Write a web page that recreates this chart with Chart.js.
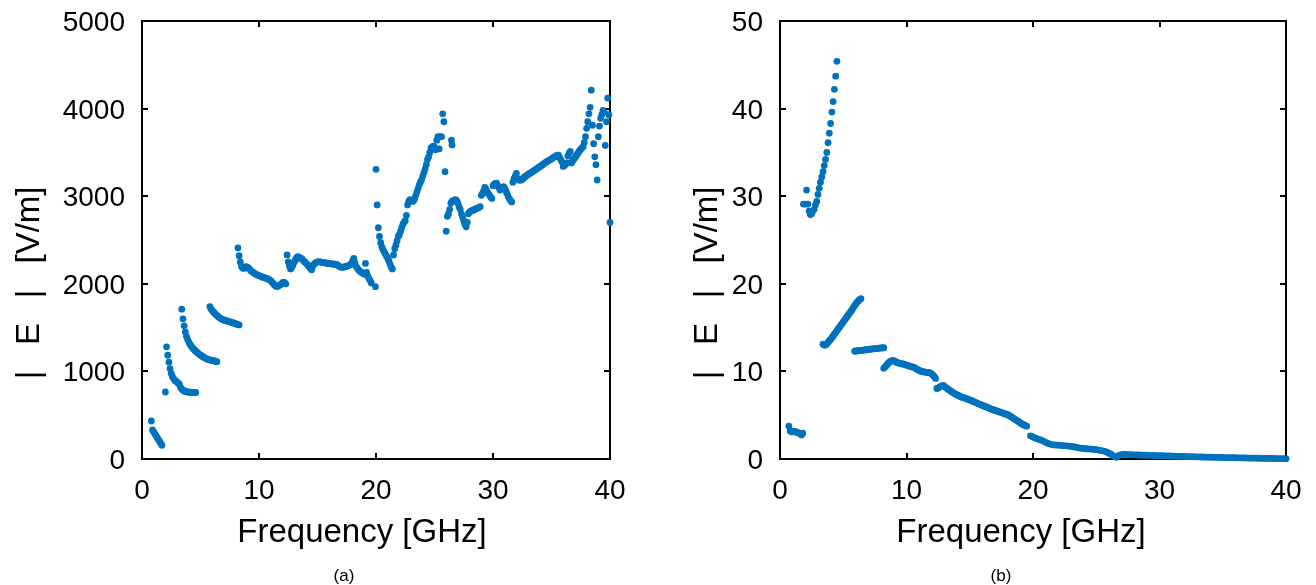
<!DOCTYPE html>
<html>
<head>
<meta charset="utf-8">
<script src="https://cdn.jsdelivr.net/npm/chart.js@4.4.0/dist/chart.umd.min.js"></script>
<style>
  html, body { margin: 0; padding: 0; background: #fff; }
  #wrap { position: relative; width: 1316px; height: 585px; overflow: hidden; }
  .panel { position: absolute; top: 0; width: 658px; height: 585px; }
</style>
</head>
<body>
<div id="wrap">
  <div class="panel" style="left:0"><canvas id="chart-a" width="658" height="585"></canvas></div>
  <div class="panel" style="left:658px"><canvas id="chart-b" width="658" height="585"></canvas></div>
</div>
<script>
// ─── DATA ─────────────────────────────────────────────────────────────────
// frequency sweep, 0.1 GHz grid per segment (last segment of (b) is 0.2 GHz)
const freqTicks = [0, 10, 20, 30, 40];
const ticksA = [0, 1000, 2000, 3000, 4000, 5000];
const ticksB = [0, 10, 20, 30, 40, 50];

// (a) |E| [V/m], one array per branch of the curve
const aStarts = [0.8, 2.0, 3.4, 5.8, 8.2, 12.4, 20.0, 26.1];
const a1 = [434, 331, 309, 287, 266, 244, 222, 200, 179, 157];
const a2 = [765, 1280, 1185, 1105, 1030, 975, 940, 918, 900, 888,
  878, 866, 852, 815, 798, 786, 777, 771, 767, 765,
  763, 762, 761, 760, 760, 759, 759];
const a3 = [1710, 1600, 1520, 1450, 1400, 1365, 1335, 1310, 1290, 1272,
  1256, 1242, 1230, 1218, 1206, 1195, 1185, 1176, 1168, 1160,
  1152, 1146, 1140, 1135, 1131, 1128, 1125, 1122, 1119, 1115, 1111];
const a4 = [1740, 1712, 1695, 1678, 1664, 1650, 1638, 1626, 1615, 1606,
  1598, 1592, 1587, 1582, 1578, 1574, 1570, 1566, 1562, 1558,
  1554, 1549, 1544, 1539, 1534, 1530];
const a5 = [2410, 2320, 2250, 2200, 2180, 2175, 2185, 2195, 2190, 2180,
  2165, 2150, 2140, 2130, 2120, 2112, 2105, 2098, 2092, 2088,
  2082, 2076, 2072, 2068, 2063, 2058, 2052, 2045, 2035, 2020,
  2005, 1990, 1978, 1970, 1972, 1980, 1988, 1995, 2010, 2018,
  2010, 2000];
const a6 = [2330, 2250, 2200, 2170, 2190, 2215, 2245, 2270, 2295, 2310,
  2305, 2295, 2290, 2280, 2265, 2250, 2240, 2225, 2210, 2195,
  2175, 2160, 2200, 2225, 2235, 2245, 2250, 2252, 2250, 2248,
  2245, 2242, 2240, 2238, 2235, 2232, 2230, 2228, 2228, 2226,
  2225, 2224, 2222, 2215, 2205, 2195, 2190, 2188, 2190, 2194,
  2196, 2200, 2205, 2210, 2218, 2230, 2260, 2290, 2240, 2200,
  2180, 2160, 2145, 2135, 2128, 2120, 2110, 2233, 2130, 2090,
  2060, 2035, 2010];
const a7 = [3307, 2900, 2640, 2540, 2470, 2420, 2390, 2365, 2340, 2315,
  2290, 2260, 2225, 2190, 2170, 2330, 2400, 2440, 2490, 2540,
  2560, 2600, 2640, 2680, 2700, 2720, 2780, 2900, 2940, 2960,
  2950, 2940, 2945, 2970, 3010, 3050, 3090, 3130, 3160, 3190,
  3230, 3270, 3310, 3360, 3420, 3450, 3500, 3550, 3560, 3570,
  3560, 3530, 3640, 3680, 3540, 3680, 3680, 3940, 3850, 3280, 2600];
const a8 = [2770, 2800, 2850, 2920, 2940, 2950, 2955, 2960, 2950, 2920,
  2880, 2850, 2800, 2760, 2720, 2680, 2650, 2700, 2800, 2820,
  2830, 2835, 2840, 2845, 2855, 2860, 2865, 2870, 2880, 3010,
  3030, 3060, 3100, 3080, 3050, 3030, 3010, 2990, 2975, 3120,
  3135, 3145, 3148, 3120, 3100, 3070, 3085, 3100, 3110, 3090,
  3060, 3030, 2995, 2970, 2950, 2935, 3160, 3200, 3230, 3260,
  3200, 3185, 3185, 3185, 3190, 3205, 3220, 3228, 3238, 3248,
  3258, 3265, 3272, 3282, 3292, 3300, 3308, 3318, 3328, 3337,
  3345, 3355, 3365, 3375, 3385, 3393, 3402, 3410, 3418, 3425,
  3435, 3445, 3452, 3460, 3468, 3470, 3440, 3415, 3390, 3340,
  3350, 3365, 3380, 3460, 3490, 3510, 3380, 3400, 3420, 3440,
  3460, 3480, 3500, 3520, 3535, 3550, 3565, 3610, 3680, 3775,
  3850, 3940, 4015, 4210, 3810, 3600, 3450, 3360, 3185, 3680,
  3800, 3890, 3930, 3980, 3960, 3580, 3850, 4120, 3930, 2700];
const aExtraF = [19.95, 26.45, 26.5];
const aExtraV = [1967, 3640, 3585];

// (b) |E| [V/m]
const bStarts = [0.7, 2.0, 3.4, 5.9, 8.2, 12.4, 19.8];
const bSteps = [0.1, 0.1, 0.1, 0.1, 0.1, 0.1, 0.2];
const b1 = [3.75, 3.2, 3.1, 3.1, 3.15, 3.15, 3.05, 3.0, 2.95, 2.9, 2.75, 2.95];
const b2 = [29.1, 30.7, 29.1, 28.3, 27.9, 28.0, 28.3, 28.5, 29.0, 29.4,
  30.2, 30.9, 31.6, 32.2, 32.8, 33.5, 34.2, 35.0, 36.1, 37.2,
  38.3, 39.6, 40.8, 42.2, 43.7, 45.4];
const b3 = [13.1, 13.0, 13.0, 13.15, 13.3, 13.5, 13.65, 13.85, 14.05, 14.25,
  14.45, 14.65, 14.85, 15.05, 15.25, 15.45, 15.65, 15.85, 16.05, 16.25,
  16.45, 16.65, 16.85, 17.05, 17.3, 17.5, 17.7, 17.9, 18.05, 18.2, 18.3];
const b4 = [12.3, 12.33, 12.34, 12.37, 12.38, 12.4, 12.41, 12.44, 12.45, 12.47,
  12.49, 12.5, 12.53, 12.55, 12.56, 12.58, 12.6, 12.61, 12.63, 12.65,
  12.66, 12.68, 12.69, 12.7];
const b5 = [10.35, 10.5, 10.65, 10.85, 11.0, 11.1, 11.2, 11.25, 11.22, 11.15,
  11.05, 11.0, 10.95, 10.9, 10.87, 10.85, 10.82, 10.78, 10.72, 10.68,
  10.62, 10.55, 10.52, 10.5, 10.45, 10.35, 10.28, 10.2, 10.1, 10.05,
  10.0, 9.95, 9.93, 9.92, 9.9, 9.88, 9.85, 9.8, 9.7, 9.55, 9.4, 9.2];
const b6 = [8.05, 8.1, 8.2, 8.3, 8.35, 8.4, 8.3, 8.15, 8.05, 7.95,
  7.85, 7.75, 7.65, 7.55, 7.47, 7.4, 7.32, 7.25, 7.17, 7.1,
  7.05, 7.0, 6.95, 6.9, 6.85, 6.8, 6.74, 6.68, 6.62, 6.56,
  6.5, 6.43, 6.36, 6.3, 6.24, 6.18, 6.12, 6.06, 6.0, 5.95,
  5.88, 5.82, 5.76, 5.7, 5.65, 5.6, 5.55, 5.5, 5.45, 5.4,
  5.35, 5.3, 5.25, 5.2, 5.15, 5.1, 5.05, 4.97, 4.88, 4.8,
  4.7, 4.6, 4.5, 4.42, 4.33, 4.23, 4.13, 4.03, 3.95, 3.88,
  3.8, 3.75];
const b7 = [2.65, 2.52, 2.38, 2.28, 2.18, 2.05, 1.9, 1.78, 1.68, 1.62,
  1.6, 1.58, 1.55, 1.52, 1.5, 1.47, 1.44, 1.4, 1.34, 1.28,
  1.24, 1.2, 1.17, 1.15, 1.13, 1.1, 1.07, 1.02, 0.96, 0.9,
  0.8, 0.66, 0.52, 0.3, 0.2, 0.4, 0.5, 0.52, 0.51, 0.5,
  0.49, 0.48, 0.47, 0.46, 0.45, 0.44, 0.43, 0.42, 0.41, 0.4,
  0.39, 0.38, 0.37, 0.36, 0.35, 0.34, 0.33, 0.32, 0.31, 0.3,
  0.29, 0.29, 0.28, 0.27, 0.26, 0.25, 0.25, 0.24, 0.23, 0.22,
  0.21, 0.21, 0.2, 0.19, 0.18, 0.18, 0.17, 0.16, 0.16, 0.15,
  0.15, 0.14, 0.13, 0.13, 0.12, 0.12, 0.11, 0.1, 0.1, 0.09,
  0.09, 0.08, 0.08, 0.07, 0.07, 0.06, 0.06, 0.05, 0.05, 0.05,
  0.04, 0.04];
const bExtraF = [1.85];
const bExtraV = [29.1];

// ─── HELPERS ──────────────────────────────────────────────────────────────
const DOT = '#0072BD';
const TICK_LEN = 6;
const FONT = '"Liberation Sans", Arial, Helvetica, sans-serif';

function toPoints(starts, steps, segs, exF, exV) {
  const pts = [];
  segs.forEach((vals, s) => {
    vals.forEach((v, i) => pts.push({ x: +(starts[s] + i * steps[s]).toFixed(2), y: v }));
  });
  exF.forEach((f, i) => pts.push({ x: f, y: exV[i] }));
  return pts;
}

// y title is spread out like the original: "|" "E" "|" then "[V/m]", read bottom-up
function drawYTitle(ctx, x) {
  const parts = [['|', 375], ['E', 334], ['|', 294], ['[V/m]', 225]];
  parts.forEach(([t, yc]) => {
    ctx.save();
    ctx.translate(x, yc);
    ctx.rotate(-Math.PI / 2);
    ctx.fillText(t, 0, 0);
    ctx.restore();
  });
}

// frame, inward ticks on all four sides, labels and titles
const framePlugin = {
  id: 'frame',
  beforeDatasetsDraw(chart, args, o) {
    const { ctx, chartArea: a, scales: { x, y } } = chart;
    ctx.save();
    ctx.strokeStyle = '#000';
    ctx.lineWidth = 2;
    ctx.strokeRect(a.left, a.top, a.right - a.left, a.bottom - a.top);
    ctx.beginPath();
    o.xTicks.forEach(v => {
      const px = Math.round(x.getPixelForValue(v));
      ctx.moveTo(px, a.bottom); ctx.lineTo(px, a.bottom - TICK_LEN);
      ctx.moveTo(px, a.top); ctx.lineTo(px, a.top + TICK_LEN);
    });
    o.yTicks.forEach(v => {
      const py = Math.round(y.getPixelForValue(v));
      ctx.moveTo(a.left, py); ctx.lineTo(a.left + TICK_LEN, py);
      ctx.moveTo(a.right, py); ctx.lineTo(a.right - TICK_LEN, py);
    });
    ctx.stroke();

    ctx.fillStyle = '#000';
    ctx.font = `28px ${FONT}`;
    ctx.textBaseline = 'alphabetic';
    ctx.textAlign = 'center';
    o.xTicks.forEach(v => ctx.fillText(String(v), x.getPixelForValue(v), a.bottom + 40));
    ctx.textAlign = 'right';
    o.yTicks.forEach(v => ctx.fillText(String(v), a.left - 17, y.getPixelForValue(v) + 10));

    ctx.font = `33px ${FONT}`;
    ctx.textAlign = 'center';
    ctx.fillText('Frequency [GHz]', o.xTitleX, 542);
    drawYTitle(ctx, o.yTitleX);

    ctx.font = `17px ${FONT}`;
    ctx.fillText(o.caption, o.captionX, 581);
    ctx.restore();
  }
};

function makeChart(id, points, yMax, pad, frameOpts) {
  return new Chart(document.getElementById(id), {
    type: 'scatter',
    data: {
      datasets: [{
        data: points,
        backgroundColor: DOT,
        borderWidth: 0,
        pointRadius: 3.4,
        pointHoverRadius: 3.4,
        clip: false
      }]
    },
    options: {
      responsive: false,
      animation: false,
      devicePixelRatio: 1,
      layout: { padding: pad },
      scales: {
        x: { type: 'linear', min: 0, max: 40, display: false },
        y: { type: 'linear', min: 0, max: yMax, display: false }
      },
      plugins: { legend: { display: false }, tooltip: { enabled: false }, frame: frameOpts }
    },
    plugins: [framePlugin]
  });
}

const ptsA = toPoints(aStarts, aStarts.map(() => 0.1), [a1, a2, a3, a4, a5, a6, a7, a8], aExtraF, aExtraV);
const ptsB = toPoints(bStarts, bSteps, [b1, b2, b3, b4, b5, b6, b7], bExtraF, bExtraV);

makeChart('chart-a', ptsA, 5000, { left: 142, right: 48, top: 21, bottom: 126 },
  { xTicks: freqTicks, yTicks: ticksA, xTitleX: 362, yTitleX: 39, caption: '(a)', captionX: 344 });
makeChart('chart-b', ptsB, 50, { left: 122, right: 30, top: 21, bottom: 126 },
  { xTicks: freqTicks, yTicks: ticksB, xTitleX: 363, yTitleX: 59, caption: '(b)', captionX: 343 });
</script>
</body>
</html>
